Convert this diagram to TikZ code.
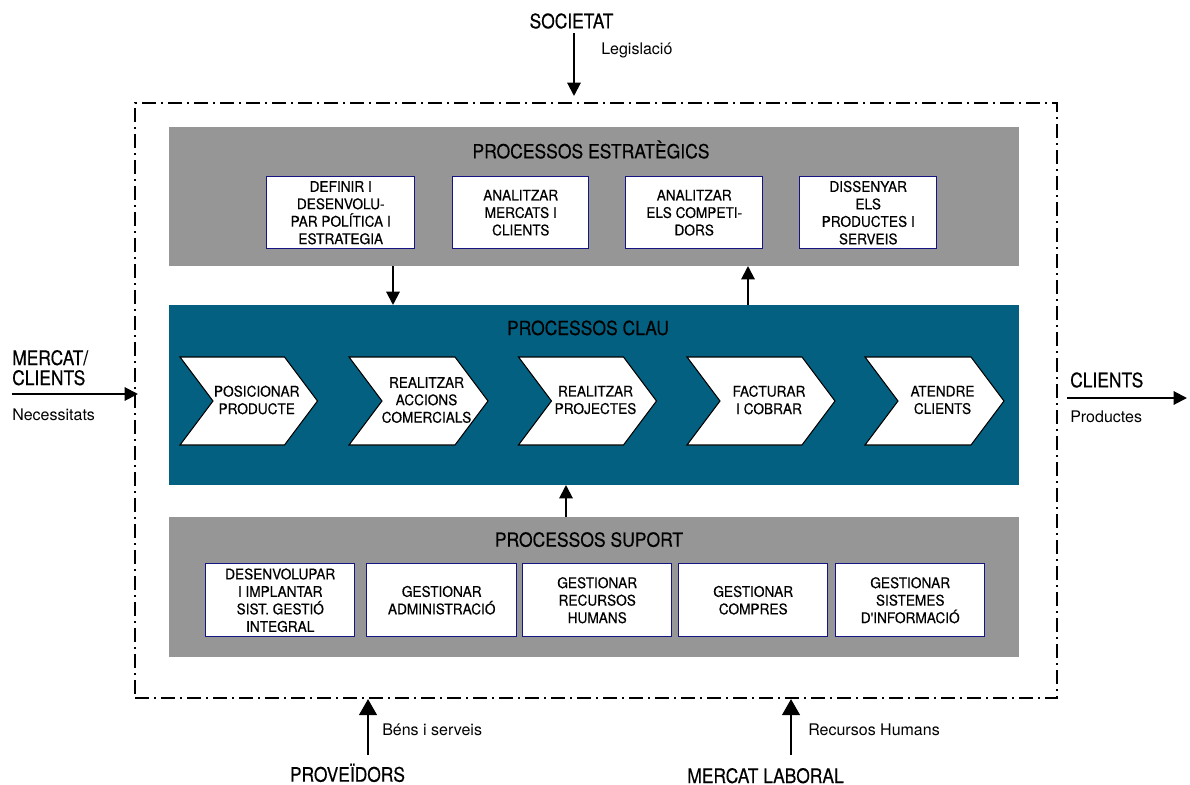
\documentclass[tikz,border=0pt]{standalone}
\usepackage{fontspec}
\setmainfont{TeX Gyre Heros}
\newfontfamily\bigf[FakeStretch=0.87,FakeBold=0.4]{TeX Gyre Heros}
\newfontfamily\titf[FakeStretch=0.9,FakeBold=0.3]{TeX Gyre Heros}
\newfontfamily\boxf[FakeStretch=0.93,FakeBold=0.4]{TeX Gyre Heros}
\usetikzlibrary{arrows.meta}
\definecolor{grayband}{RGB}{150,150,150}
\definecolor{clauteal}{RGB}{3,96,128}
\definecolor{navyb}{RGB}{20,20,130}
\newcommand\chevron[4]{%
  \draw[chev] (#2,357) -- ({#3-33},357) -- (#3,401) -- ({#3-33},445) -- (#2,445) -- ({#2+33},401) -- cycle;
  \node[chevtxt] (#1) at ({(#2+#3)/2+8},400) {#4};}
\begin{document}
\begin{tikzpicture}[x=0.75pt,y=-0.75pt,
  band/.style={anchor=north west, inner sep=0, outer sep=0, draw=none},
  sbox/.style={anchor=north west, draw=navyb, line width=1.1pt, fill=white, inner sep=0, align=center,
    font=\boxf\fontsize{11}{13.1}\selectfont},
  chev/.style={draw=black, line width=0.8pt, fill=white, line join=miter},
  chevtxt/.style={align=center, inner sep=0, font=\boxf\fontsize{11}{13.1}\selectfont},
  title/.style={anchor=base, inner sep=0, font=\titf\fontsize{14.6}{16}\selectfont},
  big/.style={inner sep=0, font=\bigf\fontsize{15}{12.9}\selectfont},
  small/.style={inner sep=0, anchor=base west, font=\fontsize{12}{14}\selectfont},
  arr/.style={-{Triangle[length=10pt,width=10pt]}, line width=1.5pt},
  barr/.style={-{Triangle[length=12pt,width=13pt]}, line width=2.2pt},
  envst/.style={anchor=north west, inner sep=0, draw=black, line width=1.5pt,
    dash pattern=on 10.5pt off 3.75pt on 1.5pt off 3.75pt}
]
\useasboundingbox (0,0) rectangle (1190,785);

% environment boundary
\node[envst, minimum width={922*0.75pt}, minimum height={595*0.75pt}] (env) at (134,102) {};

% bands
\node[band, fill=grayband, minimum width={850*0.75pt}, minimum height={139*0.75pt}] (S) at (169,127) {};
\node[band, fill=clauteal, minimum width={850*0.75pt}, minimum height={180*0.75pt}] (K) at (169,305) {};
\node[band, fill=grayband, minimum width={850*0.75pt}, minimum height={140*0.75pt}] (P) at (169,517) {};

% titles
\node[title] (tS) at (591,158.3) {PROCESSOS ESTRATÈGICS};
\node[title] (tK) at (588,335) {PROCESSOS CLAU};
\node[title] (tP) at (589,546.7) {PROCESSOS SUPORT};

% strategic boxes
\node[sbox, minimum width={148*0.75pt}, minimum height={72*0.75pt}] (e1) at (266,176) {DEFINIR I\\DESENVOLU-\\PAR POLÍTICA I\\ESTRATEGIA};
\node[sbox, minimum width={136*0.75pt}, minimum height={72*0.75pt}] (e2) at (452,176) {ANALITZAR\\MERCATS I\\CLIENTS};
\node[sbox, minimum width={137*0.75pt}, minimum height={72*0.75pt}] (e3) at (625,176) {ANALITZAR\\ELS COMPETI-\\DORS};
\node[sbox, minimum width={137*0.75pt}, minimum height={72*0.75pt}] (e4) at (799,176) {DISSENYAR\\ELS\\PRODUCTES I\\SERVEIS};

% key process chevrons
\chevron{c1}{180}{317.5}{POSICIONAR\\PRODUCTE}
\chevron{c2}{349}{488}{REALITZAR\\ACCIONS\\COMERCIALS}
\chevron{c3}{518.5}{656.5}{REALITZAR\\PROJECTES}
\chevron{c4}{687}{835}{FACTURAR\\I COBRAR}
\chevron{c5}{865}{1004}{ATENDRE\\CLIENTS}

% support boxes
\node[sbox, minimum width={149*0.75pt}, minimum height={73*0.75pt}] (s1) at (205,563) {DESENVOLUPAR\\I IMPLANTAR\\SIST. GESTIÓ\\INTEGRAL};
\node[sbox, minimum width={150*0.75pt}, minimum height={73*0.75pt}] (s2) at (366,563) {GESTIONAR\\ADMINISTRACIÓ};
\node[sbox, minimum width={149*0.75pt}, minimum height={73*0.75pt}] (s3) at (522,563) {GESTIONAR\\RECURSOS\\HUMANS};
\node[sbox, minimum width={149*0.75pt}, minimum height={73*0.75pt}] (s4) at (678,563) {GESTIONAR\\COMPRES};
\node[sbox, minimum width={149*0.75pt}, minimum height={73*0.75pt}] (s5) at (835,563) {GESTIONAR\\SISTEMES\\D'INFORMACIÓ};

% internal arrows
\coordinate (a1) at (393,0);
\coordinate (a2) at (748,0);
\coordinate (a3) at (566,0);
\draw[arr] (S.south -| a1) -- (K.north -| a1);
\draw[arr] (K.north -| a2) -- (S.south -| a2);
\draw[arr] (P.north -| a3) -- (K.south -| a3);

% outside labels
\node[big, anchor=base] (soc) at (571.5,28.3) {SOCIETAT};
\node[small] (leg) at (601,55) {Legislació};
\node[big, anchor=base west] (mc1) at (12,365) {MERCAT/};
\node[big, anchor=base west] (mc2) at (12,385) {CLIENTS};
\node[small] (nec) at (12,420.7) {Necessitats};
\node[big, anchor=base west] (cl) at (1070,387.3) {CLIENTS};
\node[small] (prod) at (1070,422.7) {Productes};
\node[big, anchor=base] (prov) at (347.5,781.7) {PROVEÏDORS};
\node[big, anchor=base] (ml) at (765.5,783) {MERCAT LABORAL};
\node[small] (bens) at (382,735) {Béns i serveis};
\node[small] (rh) at (808,735) {Recursos Humans};

% outside arrows
\coordinate (q0) at (574,33);
\coordinate (q1) at (574,96);
\draw[arr] (q0) -- (q1);
\coordinate (m0) at (12,394);
\coordinate (m1) at (138,394);
\draw[arr] (m0) -- (m1);
\coordinate (r0) at (1067,398);
\coordinate (r1) at (1187,398);
\draw[arr] (r0) -- (r1);
\coordinate (p0) at (368,755);
\draw[barr] (p0) -- (env.south -| p0);
\coordinate (l0) at (791,755);
\draw[barr] (l0) -- (env.south -| l0);
\end{tikzpicture}
\end{document}
